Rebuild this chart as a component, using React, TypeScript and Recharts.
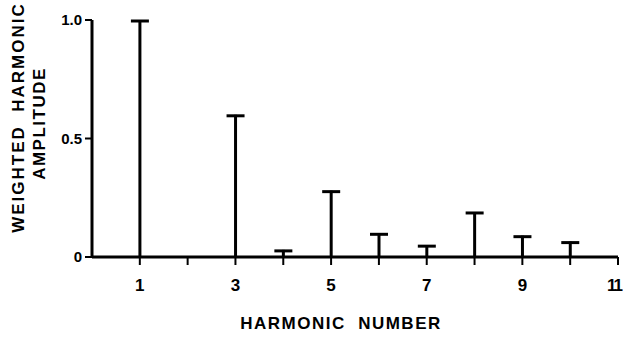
import React from "react";
import { ComposedChart, Bar, XAxis, YAxis } from "recharts";

// harmonic amplitudes (relative to the local baseline)
const harmonics = [1, 2, 3, 4, 5, 6, 7, 8, 9, 10];
const amplitudes = [1.0, 0, 0.6, 0.03, 0.28, 0.1, 0.05, 0.19, 0.09, 0.065];
const xTicks = [1, 2, 3, 4, 5, 6, 7, 8, 9, 10, 11];
const xTickLabels = ["1", "", "3", "", "5", "", "7", "", "9", "", "11"];
const yTicks = [0, 0.5, 1];
const yTickLabels = ["0", "0.5", "1.0"];

const data = harmonics.map((h, i) => ({ harmonic: h, amplitude: amplitudes[i] }));

const INK = "#000";
const FONT = "'Liberation Sans', Arial, sans-serif";

// stem with a T-shaped cap
const Stem = (props: any) => {
  const { x, y, width, height } = props;
  if (!height || height < 1) return null;
  const cx = x + width / 2;
  return (
    <g>
      <line x1={cx} y1={y} x2={cx} y2={y + height} stroke={INK} strokeWidth={3} />
      <line x1={cx - 9} y1={y + 1} x2={cx + 9} y2={y + 1} stroke={INK} strokeWidth={3} />
    </g>
  );
};

const XTick = (props: any) => {
  const { x, y, payload } = props;
  const label = xTickLabels[xTicks.indexOf(payload.value)];
  if (!label) return null;
  const last = payload.value === xTicks[xTicks.length - 1];
  return (
    <text
      x={x}
      y={y}
      dx={last ? -4 : 0}
      dy="0.71em"
      textAnchor="middle"
      fontFamily={FONT}
      fontWeight="bold"
      fontSize={17}
      letterSpacing={last ? -2 : 0}
      fill={INK}
    >
      {label}
    </text>
  );
};

const YTick = (props: any) => {
  const { x, y, payload } = props;
  const label = yTickLabels[yTicks.indexOf(payload.value)];
  return (
    <text x={x} y={y} dy="0.35em" textAnchor="end" fontFamily={FONT} fontWeight="bold" fontSize={15} fill={INK}>
      {label}
    </text>
  );
};

const YTitle = (props: any) => {
  const { viewBox } = props;
  const cy = viewBox.y + viewBox.height / 2 - 21;
  const style = { whiteSpace: "pre" as const };
  return (
    <g fontFamily={FONT} fontWeight="bold" fontSize={17} fill={INK}>
      <text x={18} y={cy} transform={`rotate(-90 18 ${cy})`} textAnchor="middle" dominantBaseline="central" letterSpacing={2} style={style}>
        {"WEIGHTED  HARMONIC"}
      </text>
      <text x={39} y={cy + 6} transform={`rotate(-90 39 ${cy + 6})`} textAnchor="middle" dominantBaseline="central" letterSpacing={1.5}>
        AMPLITUDE
      </text>
    </g>
  );
};

const XTitle = (props: any) => {
  const { viewBox } = props;
  const cx = viewBox.x + viewBox.width / 2 - 14;
  return (
    <text x={cx} y={viewBox.y + 66} textAnchor="middle" dominantBaseline="central" fontFamily={FONT} fontWeight="bold" fontSize={17} fill={INK} letterSpacing={1.5} style={{ whiteSpace: "pre" }}>
      {"HARMONIC  NUMBER"}
    </text>
  );
};

export default function App() {
  return (
    <div style={{ position: "absolute", left: 0, top: 0, background: "#fff" }}>
      <ComposedChart width={623} height={337} data={data} margin={{ top: 20, right: 5, bottom: 0, left: 0 }}>
        <XAxis
          type="number"
          dataKey="harmonic"
          domain={[0, 11]}
          ticks={xTicks}
          interval={0}
          height={80}
          axisLine={{ stroke: INK, strokeWidth: 3 }}
          tickLine={{ stroke: INK, strokeWidth: 2 }}
          tickSize={8}
          tickMargin={14}
          tick={<XTick />}
          label={<XTitle />}
        />
        <YAxis
          type="number"
          domain={[0, 1]}
          ticks={yTicks}
          width={92}
          axisLine={{ stroke: INK, strokeWidth: 3 }}
          tickLine={{ stroke: INK, strokeWidth: 2 }}
          tickSize={7}
          tickMargin={3}
          tick={<YTick />}
          label={<YTitle />}
        />
        <Bar dataKey="amplitude" barSize={18} shape={<Stem />} isAnimationActive={false} />
      </ComposedChart>
    </div>
  );
}
